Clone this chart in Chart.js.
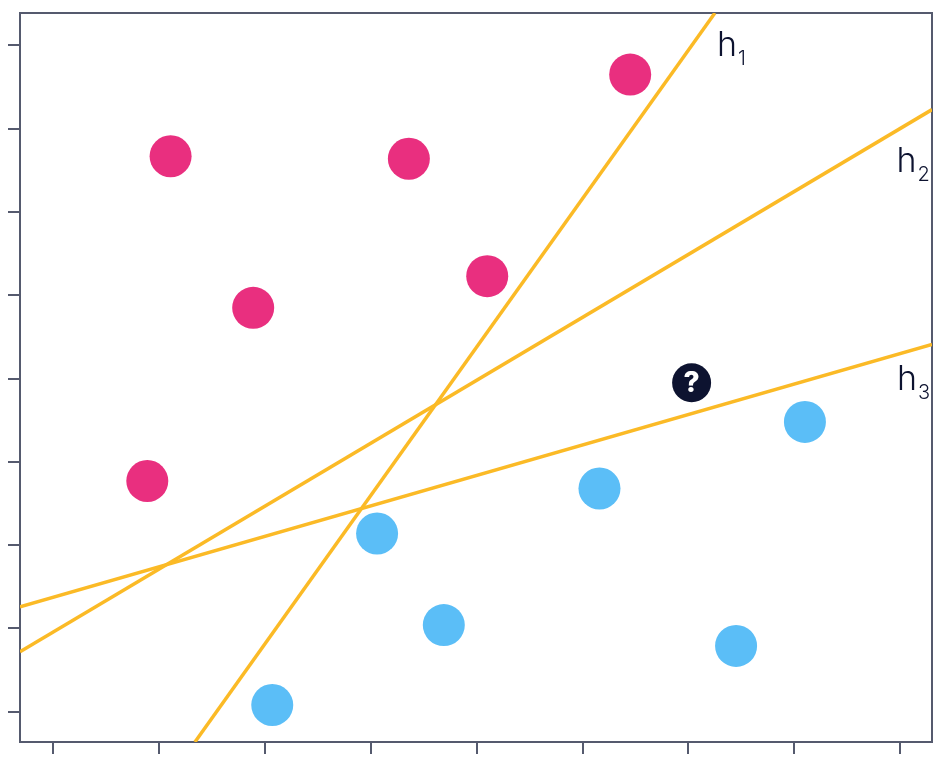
<!DOCTYPE html>
<html>
<head>
<meta charset="utf-8">
<script src="https://cdn.jsdelivr.net/npm/chart.js@4/dist/chart.umd.min.js"></script>
<style>
  body { margin: 0; background: #fff; }
  #wrap { width: 940px; height: 767px; }
</style>
</head>
<body>
<div id="wrap"><canvas id="grafico"></canvas></div>
<script>
// tick positions
const xTicks = [1, 2, 3, 4, 5, 6, 7, 8, 9];
const yTicks = [1, 2, 3, 4, 5, 6, 7, 8, 9];

// class A (pink) and class B (blue)
const claseA = [
    { x: 2.11, y: 7.67 }, { x: 4.36, y: 7.64 }, { x: 6.45, y: 8.65 },
    { x: 2.89, y: 5.85 }, { x: 5.10, y: 6.23 }, { x: 1.89, y: 3.77 }
];
const claseB = [
    { x: 4.06, y: 3.14 }, { x: 6.16, y: 3.68 }, { x: 8.10, y: 4.48 },
    { x: 4.69, y: 2.04 }, { x: 7.45, y: 1.79 }, { x: 3.07, y: 1.08 }
];
const desconocido = [{ x: 7.03, y: 4.95 }];

// separating lines
const h1 = [{ x: 2.34, y: 0.636 }, { x: 7.25, y: 9.39 }];
const h2 = [{ x: 0.688, y: 1.72 }, { x: 9.30, y: 8.23 }];
const h3 = [{ x: 0.688, y: 2.26 }, { x: 9.30, y: 5.41 }];
const etiquetas = [
    { sub: '1', x: 7.27, y: 8.87 },
    { sub: '2', x: 8.965, y: 7.475 },
    { sub: '3', x: 8.97, y: 4.867 }
];

const ejeColor = '#555a6e';
const amarillo = '#FBBA26';

// top and right edges of the frame
const marcoPlugin = {
    id: 'marco',
    beforeDatasetsDraw(chart) {
        const { ctx, chartArea: a } = chart;
        ctx.save();
        ctx.strokeStyle = ejeColor;
        ctx.lineWidth = 2;
        ctx.beginPath();
        ctx.moveTo(a.left, a.top);
        ctx.lineTo(a.right, a.top);
        ctx.lineTo(a.right, a.bottom);
        ctx.stroke();
        ctx.restore();
    }
};

const textosPlugin = {
    id: 'textos',
    afterDatasetsDraw(chart) {
        const { ctx, scales } = chart;
        ctx.save();
        ctx.fillStyle = '#0d1330';
        ctx.textBaseline = 'alphabetic';
        ctx.textAlign = 'left';
        etiquetas.forEach(e => {
            const px = scales.x.getPixelForValue(e.x);
            const py = scales.y.getPixelForValue(e.y);
            ctx.font = '300 34px Inter';
            ctx.fillText('h', px, py);
            const w = ctx.measureText('h').width;
            ctx.font = '300 20px Inter';
            ctx.fillText(e.sub, px + w + 1, py + 9);
        });
        // question mark
        const q = desconocido[0];
        ctx.fillStyle = '#ffffff';
        ctx.font = '800 28px Inter';
        ctx.textAlign = 'center';
        ctx.textBaseline = 'middle';
        ctx.fillText('?', scales.x.getPixelForValue(q.x), scales.y.getPixelForValue(q.y) + 1);
        ctx.restore();
    }
};

const lineaCfg = data => ({
    data: data,
    showLine: true,
    borderColor: amarillo,
    borderWidth: 3.5,
    pointRadius: 0,
    pointHoverRadius: 0,
    order: 2
});

new Chart(document.getElementById('grafico'), {
    type: 'scatter',
    data: {
        datasets: [
            lineaCfg(h1),
            lineaCfg(h2),
            lineaCfg(h3),
            { data: claseA, backgroundColor: '#E92F7F', borderWidth: 0, pointRadius: 21, order: 1 },
            { data: claseB, backgroundColor: '#5BBEF7', borderWidth: 0, pointRadius: 21, order: 1 },
            { data: desconocido, backgroundColor: '#0D1330', borderWidth: 0, pointRadius: 19.5, order: 0 }
        ]
    },
    options: {
        responsive: true,
        maintainAspectRatio: false,
        animation: false,
        events: [],
        layout: { autoPadding: false, padding: { left: 8, right: 8, top: 13, bottom: 13 } },
        plugins: { legend: { display: false }, tooltip: { enabled: false } },
        scales: {
            x: {
                min: 0.688, max: 9.30,
                afterBuildTicks: s => { s.ticks = xTicks.map(v => ({ value: v })); },
                ticks: { display: false },
                grid: { drawOnChartArea: false, tickLength: 12, tickColor: ejeColor, lineWidth: 2 },
                border: { color: ejeColor, width: 2 }
            },
            y: {
                min: 0.636, max: 9.39,
                afterBuildTicks: s => { s.ticks = yTicks.map(v => ({ value: v })); },
                ticks: { display: false },
                grid: { drawOnChartArea: false, tickLength: 12, tickColor: ejeColor, lineWidth: 2 },
                border: { color: ejeColor, width: 2 }
            }
        }
    },
    plugins: [marcoPlugin, textosPlugin]
});
</script>
</body>
</html>
